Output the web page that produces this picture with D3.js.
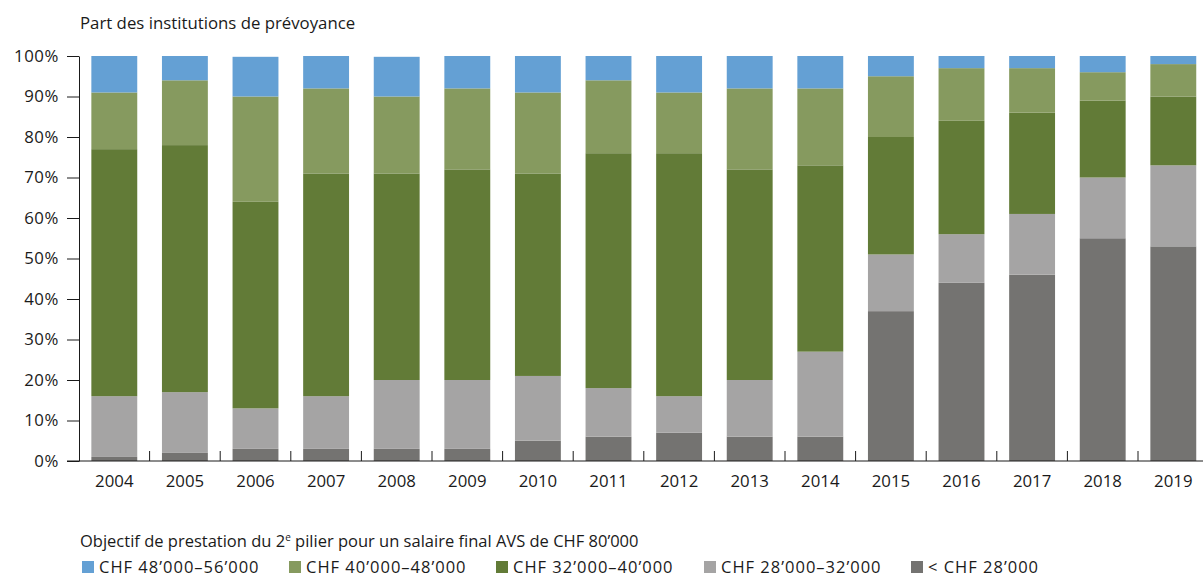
<!DOCTYPE html>
<html><head><meta charset="utf-8">
<script src="https://cdn.jsdelivr.net/npm/d3@7"></script>
<style>
html,body{margin:0;padding:0;background:#fff;}
svg{display:block;}
text{font-family:"Open Sans",sans-serif;fill:#1a1a1a;}
</style></head>
<body>
<svg id="c" width="1203" height="577"></svg>
<script>
const years = ["2004","2005","2006","2007","2008","2009","2010","2011","2012","2013","2014","2015","2016","2017","2018","2019"];
const seriesNames = ["< CHF 28’000","CHF 28’000–32’000","CHF 32’000–40’000","CHF 40’000–48’000","CHF 48’000–56’000"];
const below28 = [1,2,3,3,3,3,5,6,7,6,6,37,44,46,55,53];
const from28to32 = [15,15,10,13,17,17,16,12,9,14,21,14,12,15,15,20];
const from32to40 = [61,61,51,55,51,52,50,58,60,52,46,29,28,25,19,17];
const from40to48 = [14,16,26,21,19,20,20,18,15,20,19,15,13,11,7,8];
const from48to56 = [9,6,9.8,8,9.8,8,9,6,9,8,8,5,3,3,4,2];
const colors = ["#747371","#a5a4a4","#627b37","#869a5f","#64a0d4"];
const yTicks = [0,10,20,30,40,50,60,70,80,90,100];
const title = "Part des institutions de prévoyance";
const legendTitle = ["Objectif de prestation du 2", "e", " pilier pour un salaire final AVS de CHF 80’000"];
const legendOrder = [4,3,2,1,0];

const seriesVals = [below28, from28to32, from32to40, from40to48, from48to56];
const table = years.map((y,i)=>{const o={year:y}; seriesNames.forEach((s,k)=>o[s]=seriesVals[k][i]); return o;});
const stack = d3.stack().keys(seriesNames)(table);

const svg = d3.select("#c");
const x0 = 79, x1 = 1208.6, yb = 461, yt = 56;
const x = d3.scaleBand().domain(years).range([x0,x1]).paddingInner(0.35).paddingOuter(0.175);
const y = d3.scaleLinear().domain([0,100]).range([yb,yt]);

svg.append("text").attr("x",80).attr("y",29).style("font-size","16.8px").text(title);

// bars
svg.append("g").selectAll("g").data(stack).join("g")
  .attr("fill",(d,i)=>colors[i])
  .selectAll("rect").data(d=>d).join("rect")
  .attr("x",d=>x(d.data.year))
  .attr("width",x.bandwidth())
  .attr("y",d=>y(d[1]))
  .attr("height",d=>y(d[0])-y(d[1]));

// y axis
const yAxis = d3.axisLeft(y).tickValues(yTicks).tickFormat(d=>d+"%").tickSize(12).tickSizeOuter(0).tickPadding(8);
const gy = svg.append("g").attr("transform",`translate(${x0},0)`).call(yAxis);
gy.select(".domain").attr("stroke","#1a1a1a");
gy.selectAll(".tick line").attr("stroke","#1a1a1a");
gy.selectAll("text").style("font-size","16.8px").style("letter-spacing","0.6px").attr("fill","#1a1a1a").style("font-family","'Open Sans',sans-serif");

// x axis
const xAxis = d3.axisBottom(x).tickSize(0).tickSizeOuter(0).tickPadding(14);
const gx = svg.append("g").attr("transform",`translate(0,${yb})`).call(xAxis);
gx.select(".domain").attr("stroke","#1a1a1a").attr("d",`M${x0-12},0H${x1}`);
gx.selectAll("text").style("font-size","16.8px").attr("fill","#1a1a1a").style("font-family","'Open Sans',sans-serif");
const off = (x.step()-x.bandwidth())/2;
gx.selectAll(".sep").data(years.slice(1)).join("line").attr("class","sep")
  .attr("x1",d=>x(d)-off).attr("x2",d=>x(d)-off).attr("y1",0).attr("y2",-10)
  .attr("stroke","#1a1a1a");

// legend
const lt = svg.append("text").attr("x",80).attr("y",547).style("font-size","16.5px");
lt.append("tspan").text(legendTitle[0]);
lt.append("tspan").attr("dy",-6).style("font-size","10px").text(legendTitle[1]);
lt.append("tspan").attr("dy",6).text(legendTitle[2]);

const legX = [82, 289, 496, 704, 911];
const lg = svg.append("g").selectAll("g").data(legendOrder).join("g")
  .attr("transform",(d,i)=>`translate(${legX[i]},0)`);
lg.append("rect").attr("x",0).attr("y",561).attr("width",12).attr("height",12).attr("fill",d=>colors[d]);
lg.append("text").attr("x",17).attr("y",572.5).style("font-size","16.5px").style("letter-spacing","1px").text(d=>seriesNames[d]);
</script>
</body></html>
